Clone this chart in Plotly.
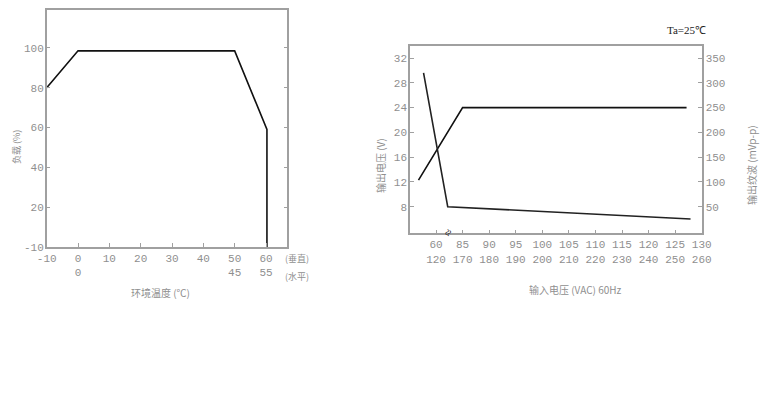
import plotly.graph_objects as go

# ---- Left chart: derating curve ----
temp_x = [-10, 0, 50, 60.3, 60.3]
load_y = [80, 98.5, 98.5, 59, 0]
left_xticks = [-10, 0, 10, 20, 30, 40, 50, 60]
left_xtext = ["-10", "0<br>0", "10", "20", "30", "40", "50<br>45", "60<br>55"]
left_yticks = [0, 20, 40, 60, 80, 100]
left_ytext = ["-10", "20", "40", "60", "80", "100"]

# ---- Right chart: output voltage / ripple vs input voltage ----
vin_labels = ["60<br>120", "85<br>170", "90<br>180", "95<br>190", "100<br>200",
              "105<br>210", "110<br>220", "115<br>230", "120<br>240", "125<br>250", "130<br>260"]
vout_pos = [-0.66, 1.0, 9.43]
vout_val = [12.3, 24, 24]
ripple_pos = [-0.47, 0.44, 9.58]
ripple_val = [320, 50, 25]
vout_ticks = [8, 12, 16, 20, 24, 28, 32]
ripple_ticks = [50, 100, 150, 200, 250, 300, 350]

GRAY = "#a0a0a0"
TXT = "#8f8f8f"
FONT = "Liberation Mono"

# page body has an 8px margin; figure sized to fit the remaining window
W, H = 761.0, 392.0
def px(x, y):
    return (x - 8) / W, 1 - (y - 8) / H

def dom_x(a, b):
    return [px(a, 0)[0], px(b, 0)[0]]

def dom_y(top, bottom):
    return [px(0, bottom)[1], px(0, top)[1]]

fig = go.Figure()
fig.add_trace(go.Scatter(x=temp_x, y=load_y, mode="lines",
                         line=dict(color="#111", width=1.6), xaxis="x", yaxis="y",
                         showlegend=False))
fig.add_trace(go.Scatter(x=vout_pos, y=vout_val, mode="lines",
                         line=dict(color="#111", width=1.6), xaxis="x2", yaxis="y2",
                         showlegend=False))
fig.add_trace(go.Scatter(x=ripple_pos, y=ripple_val, mode="lines",
                         line=dict(color="#222", width=1.6), xaxis="x2", yaxis="y3",
                         showlegend=False))

axcommon = dict(showgrid=False, zeroline=False, showline=True, linecolor=GRAY, linewidth=1.5,
                tickcolor=GRAY, tickfont=dict(family=FONT, size=11, color=TXT), ticklen=4,
                ticks="inside", automargin=False)

fig.update_layout(
    width=int(W), height=int(H),
    margin=dict(l=0, r=0, t=0, b=0),
    paper_bgcolor="white", plot_bgcolor="white",
    font=dict(family=FONT + ", Noto Sans CJK SC", size=11, color=TXT),
    xaxis=dict(domain=dom_x(46.7, 287.3), range=[-10, 66.8], tickmode="array",
               tickvals=left_xticks, ticktext=left_xtext, mirror=True,
               anchor="y", **axcommon),
    yaxis=dict(domain=dom_y(10, 247), range=[0, 119], tickmode="array",
               tickvals=left_yticks, ticktext=left_ytext, mirror="allticks",
               ticklabelstandoff=-1, anchor="x", **axcommon),
    xaxis2=dict(domain=dom_x(410, 701.7), range=[-0.98, 10.0], tickmode="array",
                tickvals=list(range(len(vin_labels))), ticktext=vin_labels,
                mirror=True, anchor="y2", **axcommon),
    yaxis2=dict(domain=dom_y(45.7, 233.3), range=[3.7, 34.0], tickmode="array",
                tickvals=vout_ticks, ticklabelstandoff=-1, anchor="x2", **axcommon),
    yaxis3=dict(range=[-3.75, 375], tickmode="array", tickvals=ripple_ticks,
                ticklabelstandoff=0, overlaying="y2", side="right", anchor="x2", **axcommon),
)

annotations = [
    ("负载 (%)", 16, 147, -90, 9),
    ("环境温度 (℃)", 160, 292, 0, 10),
    ("(垂直)", 297, 259, 0, 9),
    ("(水平)", 297, 276, 0, 9),
    ("输出电压 (V)", 380, 166, -90, 10),
    ("输出纹波 (mVp-p)", 751, 165, -90, 10),
    ("输入电压 (VAC) 60Hz", 575, 289, 0, 10),
]
for text, x, y, ang, sz in annotations:
    ax, ay = px(x, y)
    fig.add_annotation(text=text, x=ax, y=ay, textangle=ang, showarrow=False,
                       xref="paper", yref="paper", xanchor="center", yanchor="middle",
                       borderpad=0, font=dict(family="Noto Sans CJK SC", size=sz, color=TXT))

tx, ty = px(686, 30)
fig.add_annotation(text="Ta=25℃", x=tx, y=ty, showarrow=False, xref="paper", yref="paper",
                   xanchor="center", yanchor="middle",
                   font=dict(family="Liberation Serif", size=11, color="#222"))
bx, by = px(448, 233)
fig.add_annotation(text="≈", x=bx, y=by, showarrow=False, xref="paper", yref="paper",
                   xanchor="center", yanchor="middle", textangle=-60,
                   font=dict(family="Liberation Serif", size=12, color="#222"))

fig.write_html("out.html")
